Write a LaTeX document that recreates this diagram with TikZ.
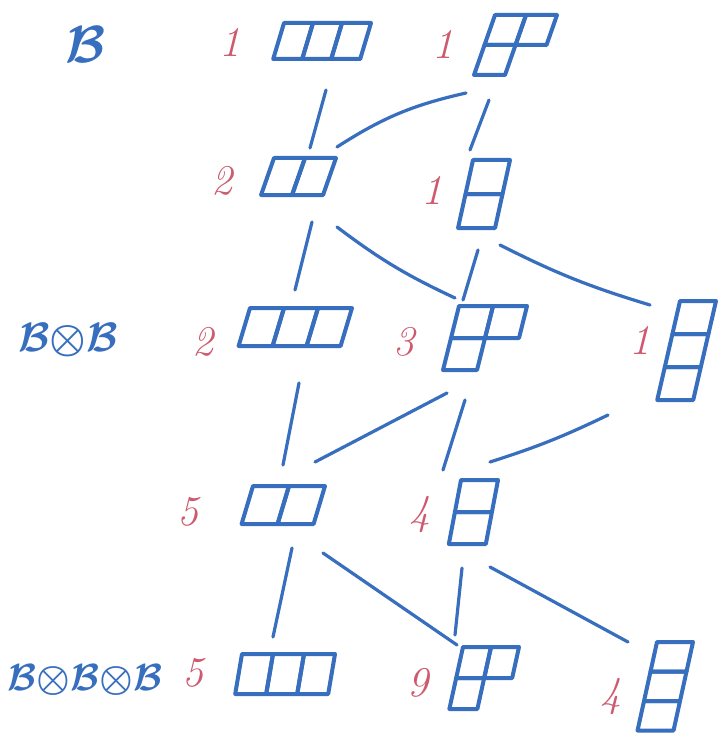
\documentclass[tikz,border=0pt]{standalone}
\definecolor{penblue}{RGB}{55,110,190}
\definecolor{penred}{RGB}{205,90,110}
\tikzset{
  cellline/.style={draw=penblue, line width=4pt, line join=round, line cap=round},
  link/.style={draw=penblue, line width=3.2pt, line cap=round},
  diag/.style={anchor=north west, inner sep=0pt, outer sep=0pt},
  mult/.style={text=penred, font=\Huge\itshape, scale=1.7, inner sep=0pt},
  lvl/.style={text=penblue, inner sep=0pt, font=\Huge\boldmath}
}
% #1 name, #2 x0, #3 y0, #4 cell width, #5 cell height, #6 slant, #7 row lengths, #8 max row, #9 rows
\newcommand{\ydiag}[9]{%
  \begin{scope}[shift={(#2,#3)}, xslant=#6]
    \foreach \r [count=\i from 0] in {#7} {
      \foreach \c in {1,...,\r} {
        \draw[cellline] ({(\c-1)*#4},{\i*#5}) rectangle ({\c*#4},{(\i+1)*#5});
      }
    }
  \end{scope}
  \node[diag, minimum width={#8*#4*1pt}, minimum height={#9*#5*1pt}] (#1) at (#2,#3) {};
}
\begin{document}
\begin{tikzpicture}[x=1pt, y=-1pt]
\useasboundingbox (0,0) rectangle (720,738);
\fill[white] (0,0) rectangle (720,738);

% level labels
\node[lvl, scale=2.1] (lB) at (86,45) {$\mathcal{B}$};
\node[lvl, scale=1.65] (lBB) at (68,340) {$\mathcal{B}{\otimes}\mathcal{B}$};
\node[lvl, scale=1.52] (lBBB) at (85,680) {$\mathcal{B}{\otimes}\mathcal{B}{\otimes}\mathcal{B}$};

% Young diagrams
\ydiag{A1}{284}{23}{29}{36}{0.3}{3}{3}{1}
\ydiag{A2}{495}{15}{31}{30}{0.35}{2,1}{2}{2}
\ydiag{B1}{274}{158}{31}{37}{0.35}{2}{2}{1}
\ydiag{B2}{473}{160}{37}{34}{0.22}{1,1}{1}{2}
\ydiag{C1}{250}{308}{34}{38}{0.3}{3}{3}{1}
\ydiag{C2}{459}{306}{34}{32}{0.25}{2,1}{2}{2}
\ydiag{C3}{680}{301}{36}{33}{0.23}{1,1,1}{1}{3}
\ydiag{D1}{253}{486}{36}{38}{0.3}{2}{2}{1}
\ydiag{D2}{461}{480}{37}{32}{0.19}{1,1}{1}{2}
\ydiag{E1}{242}{654}{31}{40}{0.17}{3}{3}{1}
\ydiag{E2}{463}{647}{28}{31}{0.22}{2,1}{2}{2}
\ydiag{E3}{657}{642}{36}{29.5}{0.22}{1,1,1}{1}{3}

% multiplicities
\node[mult] (mA1) at (230,42) {1};
\node[mult] (mA2) at (443,44) {1};
\node[mult] (mB1) at (222,181) {2};
\node[mult] (mB2) at (432,190) {1};
\node[mult] (mC1) at (203,342) {2};
\node[mult] (mC2) at (404,342) {3};
\node[mult] (mC3) at (640,340) {1};
\node[mult] (mD1) at (188,512) {5};
\node[mult] (mD2) at (420,515) {4};
\node[mult] (mE1) at (193,673) {5};
\node[mult] (mE2) at (418,683) {9};
\node[mult] (mE3) at (611,697) {4};

% connectors
\draw[link] ([shift={(42,67)}]A1.north west) -- ([shift={(36,-10)}]B1.north west);
\draw[link] ([shift={(-29,78)}]A2.north west) to[bend right=10] ([shift={(63,-11)}]B1.north west);
\draw[link] ([shift={(-6,85)}]A2.north west) -- ([shift={(-3,-10)}]B2.north west);

\draw[link] ([shift={(38,64)}]B1.north west) -- ([shift={(45,-18)}]C1.north west);
\draw[link] ([shift={(63,69)}]B1.north west) to[bend right=6] ([shift={(-4,-8)}]C2.north west);
\draw[link] ([shift={(5,90)}]B2.north west) -- ([shift={(4,-6)}]C2.north west);
\draw[link] ([shift={(27,85)}]B2.north west) to[bend right=5] ([shift={(-30,4)}]C3.north west);

\draw[link] ([shift={(49,75)}]C1.north west) -- ([shift={(30,-21)}]D1.north west);
\draw[link] ([shift={(-12,87)}]C2.north west) -- ([shift={(62,-24)}]D1.north west);
\draw[link] ([shift={(6,94)}]C2.north west) -- ([shift={(-18,-10)}]D2.north west);
\draw[link] ([shift={(-72,114)}]C3.north west) to[bend left=4] ([shift={(29,-18)}]D2.north west);

\draw[link] ([shift={(39,62)}]D1.north west) -- ([shift={(31,-17)}]E1.north west);
\draw[link] ([shift={(70,67)}]D1.north west) -- ([shift={(-6,-2)}]E2.north west);
\draw[link] ([shift={(1,88)}]D2.north west) -- ([shift={(-8,-12)}]E2.north west);
\draw[link] ([shift={(29,87)}]D2.north west) -- ([shift={(-29,0)}]E3.north west);
\end{tikzpicture}
\end{document}
